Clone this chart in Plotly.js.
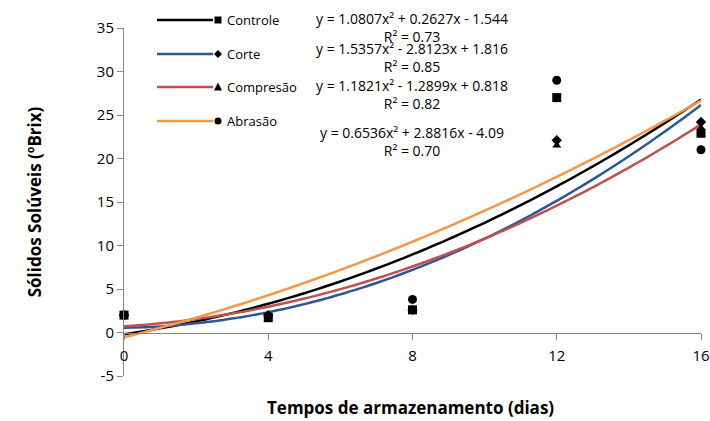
<!DOCTYPE html>
<html>
<head>
<meta charset="utf-8">
<script src="https://cdn.plot.ly/plotly-3.0.1.min.js"></script>
<style>html,body{margin:0;padding:0;background:#fff;}#chart{width:710px;height:421px;}</style>
</head>
<body>
<div id="chart"></div>
<script>
// Data
const days = [0, 4, 8, 12, 16];
const seriesNames = ["Controle", "Corte", "Compresão", "Abrasão"];
const controle = [2.0, 1.7, 2.6, 27.0, 22.9];
const corte = [2.0, 2.0, 2.6, 22.1, 24.2];
const compressao = [2.0, 2.0, 2.7, 21.5, 23.5];
const abrasao = [2.0, 1.9, 3.8, 29.0, 21.0];
// Trendline coefficients shown on chart (x = sample index 1..5): a, b, c
const coefA = [1.0807, 1.5357, 1.1821, 0.6536];
const coefB = [0.2627, -2.8123, -1.2899, 2.8816];
const coefC = [-1.544, 1.816, 0.818, -4.09];
const eqLabels = [
  "y = 1.0807x² + 0.2627x - 1.544<br>R² = 0.73",
  "y = 1.5357x² - 2.8123x + 1.816<br>R² = 0.85",
  "y = 1.1821x² - 1.2899x + 0.818<br>R² = 0.82",
  "y = 0.6536x² + 2.8816x - 4.09<br>R² = 0.70"
];
const xTicks = [0, 4, 8, 12, 16];
const yTicks = [-5, 0, 5, 10, 15, 20, 25, 30, 35];
const yTickText = ["-5", "0", "5", "10", "15", "20", "25", "30", "35"];

const lineColors = ["#000000", "#2b5796", "#c0504d", "#f79646"];
const symbols = ["square", "diamond", "triangle-up", "circle"];
const values = [controle, corte, compressao, abrasao];

const FONT = "Open Sans, sans-serif";
const W = 710, H = 421;
const margin = {l: 124, r: 9, t: 28, b: 45};
const pw = W - margin.l - margin.r, ph = H - margin.t - margin.b;
const px2x = p => (p - margin.l) / pw;
const py2y = p => (H - margin.b - p) / ph;

const traces = [];
// trend curves
for (let s = 0; s < 4; s++) {
  const xs = [], ys = [];
  for (let d = 0; d <= 16.0001; d += 0.25) {
    const xi = d / 4 + 1;
    xs.push(d);
    ys.push(coefA[s] * xi * xi + coefB[s] * xi + coefC[s]);
  }
  traces.push({x: xs, y: ys, mode: "lines", line: {color: lineColors[s], width: 2.5, shape: "spline"}, showlegend: false, hoverinfo: "skip"});
}
// markers
const order = [2, 1, 3, 0];
const msize = [9, 8, 8, 9];
for (const s of order) {
  traces.push({x: days, y: values[s], mode: "markers", name: seriesNames[s],
    marker: {symbol: symbols[s], color: "#000", size: msize[s]}, showlegend: false, cliponaxis: false});
}

// custom legend (Excel style: line then marker)
const shapes = [], annotations = [];
const legY = [20, 54, 87, 121];
const mx = 218;
function legendMarker(s, cy) {
  const r = 3.5;
  if (s === 0) return {type: "rect", xref: "paper", yref: "paper", x0: px2x(mx - r), x1: px2x(mx + r), y0: py2y(cy + r), y1: py2y(cy - r), fillcolor: "#000", line: {width: 0}};
  if (s === 3) return {type: "circle", xref: "paper", yref: "paper", x0: px2x(mx - r), x1: px2x(mx + r), y0: py2y(cy + r), y1: py2y(cy - r), fillcolor: "#000", line: {width: 0}};
  const X = v => px2x(v), Y = v => py2y(v);
  if (s === 1) return {type: "path", xref: "paper", yref: "paper", path: `M ${X(mx)} ${Y(cy - 4)} L ${X(mx + 4)} ${Y(cy)} L ${X(mx)} ${Y(cy + 4)} L ${X(mx - 4)} ${Y(cy)} Z`, fillcolor: "#000", line: {width: 0}};
  return {type: "path", xref: "paper", yref: "paper", path: `M ${X(mx)} ${Y(cy - 4.5)} L ${X(mx + 4)} ${Y(cy + 3.5)} L ${X(mx - 4)} ${Y(cy + 3.5)} Z`, fillcolor: "#000", line: {width: 0}};
}
for (let s = 0; s < 4; s++) {
  shapes.push({type: "line", xref: "paper", yref: "paper", x0: px2x(157), x1: px2x(213), y0: py2y(legY[s]), y1: py2y(legY[s]), line: {color: lineColors[s], width: 2.5}});
  shapes.push(legendMarker(s, legY[s]));
  annotations.push({xref: "paper", yref: "paper", x: px2x(225), y: py2y(legY[s]), xanchor: "left", yanchor: "middle", showarrow: false,
    text: seriesNames[s], font: {family: FONT, size: 13, color: "#000"}});
}
const eqY = [27, 57, 95, 141];
for (let s = 0; s < 4; s++) {
  annotations.push({xref: "paper", yref: "paper", x: px2x(412), y: py2y(eqY[s]), xanchor: "center", yanchor: "middle", showarrow: false,
    text: eqLabels[s], align: "center", font: {family: FONT, size: 14, color: "#000"}});
}
// x axis title
annotations.push({xref: "paper", yref: "paper", x: px2x(410), y: py2y(408), xanchor: "center", yanchor: "middle", showarrow: false,
  text: "<b>Tempos de armazenamento (dias)</b>", font: {family: FONT, size: 17, color: "#000"}});

const layout = {
  width: W, height: H, margin: margin,
  paper_bgcolor: "#fff", plot_bgcolor: "#fff",
  font: {family: FONT, color: "#000"},
  showlegend: false,
  xaxis: {range: [0, 16], tickvals: xTicks, ticktext: xTicks.map(String), showgrid: false, zeroline: false,
    showline: true, linecolor: "#868686", linewidth: 1, ticks: "outside", ticklen: 6, tickcolor: "#868686",
    anchor: "free", position: 0.125, tickfont: {size: 15, family: FONT}, ticklabelstandoff: 3},
  yaxis: {range: [-5, 35], tickvals: yTicks, ticktext: yTickText, showgrid: false, zeroline: false, showline: true, linecolor: "#868686", linewidth: 1,
    ticks: "outside", ticklen: 6, tickcolor: "#868686", tickfont: {size: 15, family: FONT},
    title: {text: "<b>Sólidos Solúveis (ºBrix)</b>", font: {size: 17, family: FONT}, standoff: 50}},
  shapes: shapes, annotations: annotations
};
Plotly.newPlot("chart", traces, layout, {staticPlot: true});
</script>
</body>
</html>
